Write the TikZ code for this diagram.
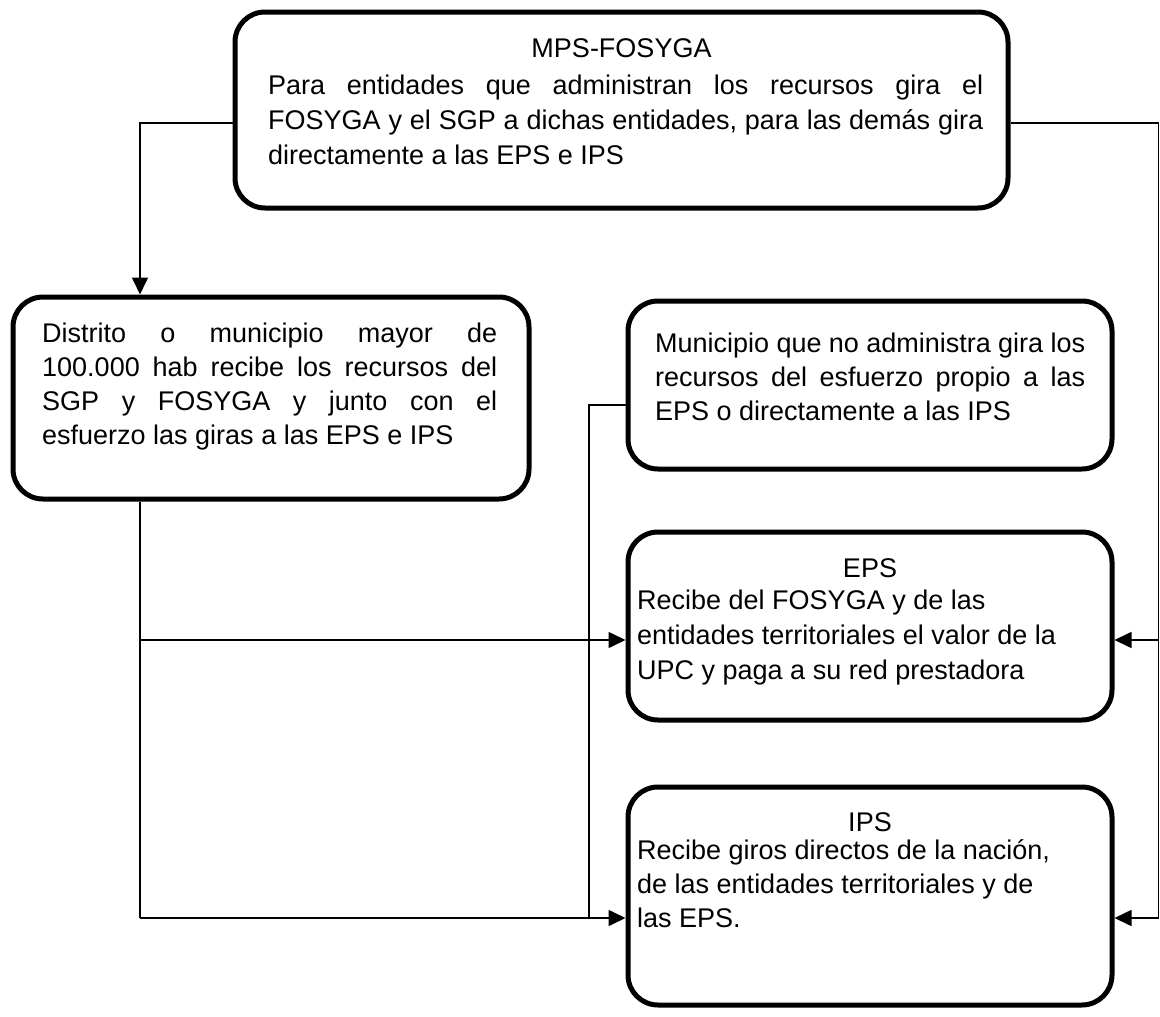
\documentclass[tikz,border=0pt]{standalone}
\usepackage{fontspec}
\setmainfont{Liberation Sans}
\usetikzlibrary{arrows.meta}
\begin{document}
\begin{tikzpicture}[x=1pt,y=-1pt,
  box/.style={draw, line width=5pt, rounded corners=30pt, rectangle, inner sep=0pt},
  txt/.style={inner sep=0pt, font=\fontsize{27}{34.5}\selectfont, align=left},
  conn/.style={line width=1.6pt},
  arr/.style={line width=1.6pt, -{Triangle[length=17pt,width=16pt]}}]
\useasboundingbox (0,0) rectangle (1160,1017);

% boxes
\node[box, minimum width=773pt, minimum height=196pt] (top) at (621.5,110) {};
\node[box, minimum width=516pt, minimum height=202pt] (dist) at (271,398) {};
\node[box, minimum width=484pt, minimum height=168pt] (muni) at (870,385) {};
\node[box, minimum width=484pt, minimum height=188pt] (eps) at (870,626) {};
\node[box, minimum width=484pt, minimum height=218pt] (ips) at (870,896) {};

% texts (anchor base = baseline of the last line)
\node[txt, anchor=base] (toptitle) at (621.5,57) {MPS-FOSYGA};
\node[txt, anchor=base west, font=\fontsize{27}{35}\selectfont] (toptext) at (268,164) {\makebox[715pt][s]{Para entidades que administran los recursos gira el}\\\makebox[715pt][s]{FOSYGA y el SGP a dichas entidades, para las demás gira}\\directamente a las EPS e IPS};

\node[txt, anchor=base west, font=\fontsize{27}{34}\selectfont] (disttext) at (42,444) {\makebox[455pt][s]{Distrito o municipio mayor de}\\\makebox[455pt][s]{100.000 hab recibe los recursos del}\\\makebox[455pt][s]{SGP y FOSYGA y junto con el}\\esfuerzo las giras a las EPS e IPS};

\node[txt, anchor=base west, font=\fontsize{27}{34}\selectfont] (munitext) at (655,420) {\makebox[430pt][s]{Municipio que no administra gira los}\\\makebox[430pt][s]{recursos del esfuerzo propio a las}\\EPS o directamente a las IPS};

\node[txt, anchor=base] (epstitle) at (870,577) {EPS};
\node[txt, anchor=base west, font=\fontsize{27}{35}\selectfont] (epstext) at (637,679) {Recibe del FOSYGA y de las\\entidades territoriales el valor de la\\UPC y paga a su red prestadora};

\node[txt, anchor=base] (ipstitle) at (870,831) {IPS};
\node[txt, anchor=base west, font=\fontsize{27}{34}\selectfont] (ipstext) at (637,927) {Recibe giros directos de la nación,\\de las entidades territoriales y de\\las EPS.};

% junction coordinates
\coordinate (lj) at (140,123);
\coordinate (rj) at (1158.5,123);
\coordinate (lb) at (140,918);
\coordinate (ye) at (0,640);
\coordinate (mv) at (589,405);

% connectors
\draw[arr] (top.west |- lj) -- (lj) -- (dist.north -| lj);
\draw[conn] (top.east |- rj) -- (rj) -- (rj |- lb);
\draw[arr] (rj |- ye) -- (eps.east |- ye);
\draw[arr] (rj |- lb) -- (ips.east |- lb);
\draw[conn] (dist.south -| lb) -- (lb);
\draw[arr] (lb |- ye) -- (eps.west |- ye);
\draw[arr] (lb) -- (ips.west |- lb);
\draw[conn] (muni.west |- mv) -- (mv) -- (mv |- lb);
\end{tikzpicture}
\end{document}
